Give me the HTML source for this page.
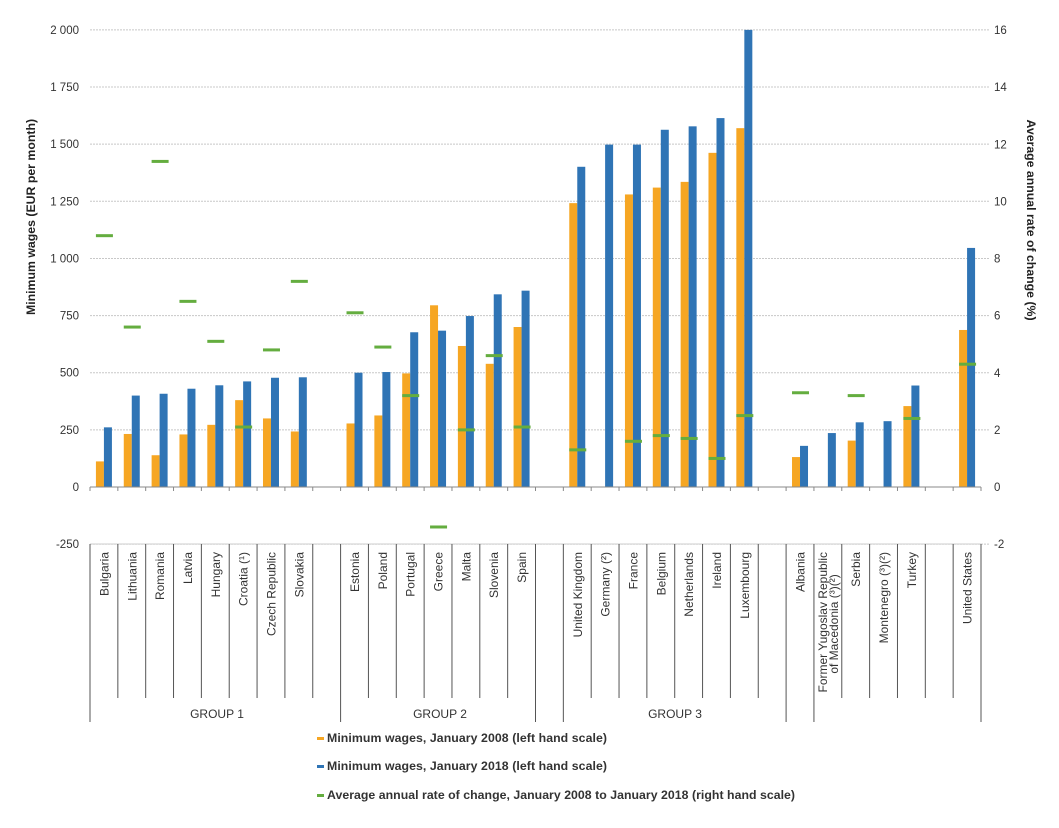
<!DOCTYPE html>
<html><head><meta charset="utf-8"><style>
html,body{margin:0;padding:0;background:#fff;}
svg{display:block;font-family:"Liberation Sans",Arial,sans-serif;}
</style></head><body>
<svg id="c" width="1059" height="828" xmlns="http://www.w3.org/2000/svg"></svg>
<script>
const s=document.getElementById('c');
let h='';
const Y=v=>487-v*0.22856, R=r=>487-r*28.56;
for(let v=-250;v<=2000;v+=250){
  const y=Y(v);
  if(v!==0) h+=`<line x1="90" x2="990" y1="${y}" y2="${y}" stroke="#c8c8c8" stroke-width="1" stroke-dasharray="2,1"/>`;
  const lbl=v<0?'-250':(v>=1000?String(v).replace(/(\d)(\d{3})$/,'$1 $2'):String(v));
  h+=`<text x="79" y="${y+4}" font-size="11.5" fill="#333" text-anchor="end">${lbl}</text>`;
}
for(let r=-2;r<=16;r+=2){
  h+=`<text x="994" y="${R(r)+4}" font-size="11.5" fill="#333">${r}</text>`;
}
h+=`<text transform="translate(35,217) rotate(-90)" font-size="12.3" font-weight="bold" fill="#222" text-anchor="middle">Minimum wages (EUR per month)</text>`;
h+=`<text transform="translate(1027,220) rotate(90)" font-size="12.3" font-weight="bold" fill="#222" text-anchor="middle">Average annual rate of change (%)</text>`;
const d=[
["Bulgaria",112,261,8.8],["Lithuania",232,400,5.6],["Romania",139,408,11.4],["Latvia",230,430,6.5],["Hungary",272,445,5.1],["Croatia (¹)",380,462,2.1],["Czech Republic",300,478,4.8],["Slovakia",243,480,7.2],null,
["Estonia",278,500,6.1],["Poland",313,503,4.9],["Portugal",497,677,3.2],["Greece",795,684,-1.4],["Malta",617,748,2.0],["Slovenia",539,843,4.6],["Spain",700,859,2.1],null,
["United Kingdom",1242,1401,1.3],["Germany (²)",null,1498,null],["France",1280,1498,1.6],["Belgium",1310,1563,1.8],["Netherlands",1335,1578,1.7],["Ireland",1462,1614,1.0],["Luxembourg",1570,2000,2.5],null,
["Albania",131,180,3.3],["Former Yugoslav Republic|of Macedonia (³)(²)",null,236,null],["Serbia",203,283,3.2],["Montenegro (³)(²)",null,288,null],["Turkey",354,444,2.4],null,
["United States",687,1046,4.3]];
const w=891/32;
d.forEach((e,i)=>{
  const c=90+w*(i+0.5);
  if(!e) return;
  if(e[1]!=null) h+=`<rect x="${c-8}" y="${Y(e[1])}" width="8" height="${487-Y(e[1])}" fill="#f6a623"/>`;
  h+=`<rect x="${c}" y="${Y(e[2])}" width="8" height="${487-Y(e[2])}" fill="#2f74b5"/>`;
  if(e[3]!=null) h+=`<rect x="${c-8}" y="${R(e[3])-1.5}" width="17" height="3" fill="#64ad3f"/>`;
  const parts=e[0].split('|');
  if(parts.length==1) h+=`<text transform="translate(${c+4.5},552) rotate(-90)" font-size="12" fill="#333" text-anchor="end">${parts[0]}</text>`;
  else { h+=`<text transform="translate(${c-1},552) rotate(-90)" font-size="12" fill="#333" text-anchor="end">${parts[0]}</text>`;
    h+=`<text transform="translate(${c+10},552) rotate(-90)" font-size="12" fill="#333" text-anchor="middle" x="-72">${parts[1]}</text>`;}
});
h+=`<line x1="90" x2="981" y1="487" y2="487" stroke="#888"/>`;
h+=`<line x1="90" x2="981" y1="544" y2="544" stroke="#ccc"/>`;
const longs=[0,9,16,17,25,26,32];
for(let i=0;i<=32;i++){
  const x=90+w*i;
  h+=`<line x1="${x}" x2="${x}" y1="487" y2="491" stroke="#888"/>`;
  const end=longs.includes(i)?722:698;
  h+=`<line x1="${x}" x2="${x}" y1="544" y2="${end}" stroke="#555"/>`;
}
h+=`<text x="217" y="718" font-size="12" fill="#333" text-anchor="middle">GROUP 1</text>`;
h+=`<text x="440" y="718" font-size="12" fill="#333" text-anchor="middle">GROUP 2</text>`;
h+=`<text x="675" y="718" font-size="12" fill="#333" text-anchor="middle">GROUP 3</text>`;
const L=[["#f6a623","Minimum wages, January 2008 (left hand scale)",740],["#2f74b5","Minimum wages, January 2018 (left hand scale)",768],["#64ad3f","Average annual rate of change, January 2008 to January 2018 (right hand scale)",797]];
L.forEach(l=>{h+=`<rect x="317" y="${l[2]-3}" width="7" height="3" fill="${l[0]}"/><text x="327" y="${l[2]+2}" font-size="12.3" font-weight="bold" fill="#333" textLength="${l[2]==797?468:280}">${l[1]}</text>`;});
s.innerHTML=h;
</script>
</body></html>
